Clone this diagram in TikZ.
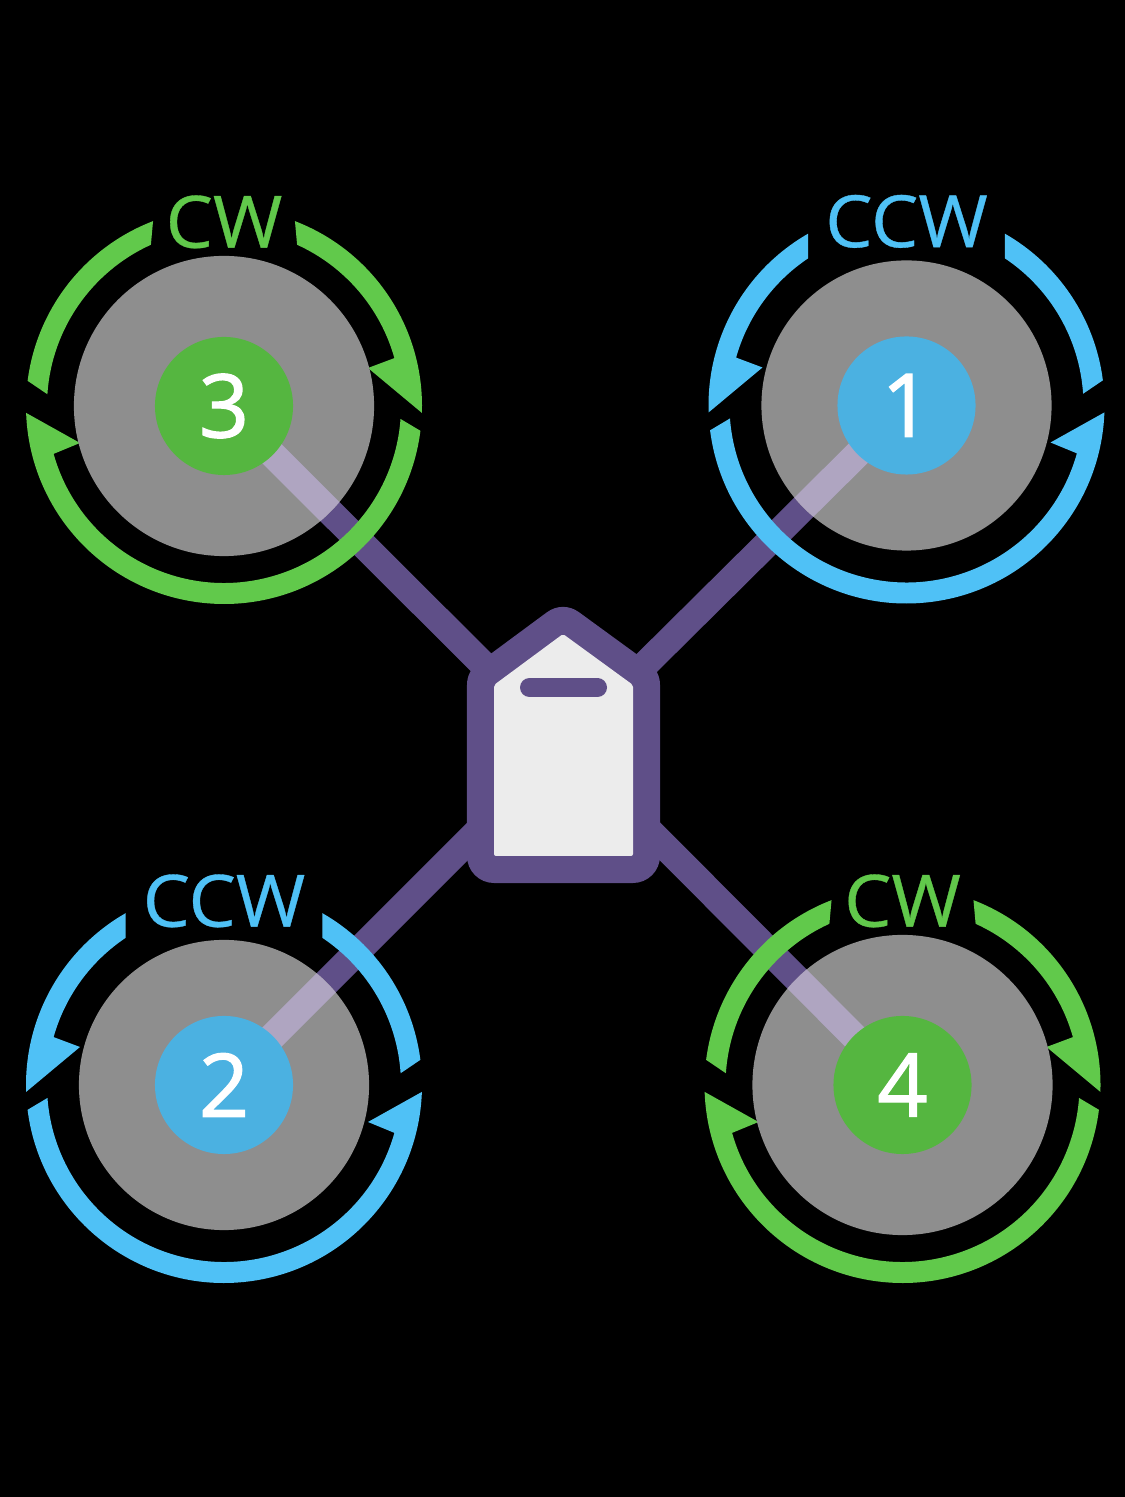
\documentclass[tikz,border=0pt]{standalone}
\usepackage{fontspec}
\setmainfont{Open Sans}
\newfontfamily\digitfont[FakeBold=1.4]{Open Sans}
\newfontfamily\wordfont[FakeBold=0.5,FakeStretch=1.04]{Open Sans}
\definecolor{ringgreen}{HTML}{61C94B}
\definecolor{hubgreen}{HTML}{55B640}
\definecolor{ringblue}{HTML}{4FC1F6}
\definecolor{hubblue}{HTML}{4BB1E1}
\definecolor{framecol}{HTML}{5F4F88}
\definecolor{armlightcol}{HTML}{AFA5C1}
\definecolor{disccol}{HTML}{8E8E8E}
\definecolor{bodycol}{HTML}{ECECEC}
\begin{document}
\begin{tikzpicture}[x=0.01cm,y=0.01cm,
  arm/.style={draw=framecol,line width=0.27cm},
  armlight/.style={draw=armlightcol,line width=0.27cm},
  disc/.style={circle,fill=disccol,inner sep=0pt,outer sep=0pt},
  hub/.style={circle,inner sep=0pt,outer sep=0pt,minimum size=1.38cm,text=white,font=\digitfont\fontsize{25}{30}\selectfont},
  spinlabel/.style={inner sep=0pt,font=\wordfont\fontsize{20.5}{24}\selectfont}]
\def\rout{198}
\def\rin{177}
% #1 centre, #2 flip, #3 colour, #4 outer gap angle, #5 inner gap angle
\def\spinring#1#2#3#4#5{
\begin{scope}[shift={(#1)},xscale=#2]
\fill[#3] (#4:\rout) arc[start angle=#4,end angle=-2,radius=\rout]--(144,38)--(15.7:\rin) arc[start angle=15.7,end angle=#5,radius=\rin]--cycle;
\fill[#3] (-7.2:\rout) arc[start angle=-7.2,end angle=-178,radius=\rout]--(-144,-37)--(-164.3:\rin) arc[start angle=-164.3,end angle=-4.2,radius=\rin]--cycle;
\fill[#3] (180-#4:\rout) arc[start angle=180-#4,end angle=172.7,radius=\rout]--(176.2:\rin) arc[start angle=176.2,end angle=180-#5,radius=\rin]--cycle;
\end{scope}
}
\fill[black] (0,0) rectangle (1125,1497);
\coordinate (body) at (564,752);
\coordinate (c1) at (906.5,1091.5);
\coordinate (c2) at (224,412);
\coordinate (c3) at (224,1091);
\coordinate (c4) at (902.5,412);
\foreach \n in {1,2,3,4} \draw[arm] (body)--(c\n);
\foreach \n/\flip/\ringcol/\hubcol/\gapout/\gapin/\dsize/\word in {
  1/-1/ringblue/hubblue/60.2/56.2/2.9cm/CCW,
  2/-1/ringblue/hubblue/60.2/56.2/2.9cm/CCW,
  3/1/ringgreen/hubgreen/69/65.6/3cm/CW,
  4/1/ringgreen/hubgreen/69/65.6/3cm/CW}{
  \spinring{c\n}{\flip}{\ringcol}{\gapout}{\gapin}
  \node[disc,minimum size=\dsize] (disc\n) at (c\n) {};
  \begin{scope}
  \clip (c\n) circle (\dsize/2);
  \draw[armlight] (body)--(c\n);
  \end{scope}
  \node[hub,fill=\hubcol] (rotor\n) at (c\n) {\n};
  \node[spinlabel,text=\ringcol] (word\n) at ([yshift=1.84cm]c\n) {\word};
}
\draw[draw=framecol,fill=framecol,line width=0.54cm,line join=round] (494,812)--(563,863)--(633,812)--(633,641)--(494,641)--cycle;
\fill[bodycol,rounded corners=0.02cm] (494,812)--(563,863)--(633,812)--(633,641)--(494,641)--cycle;
\draw[framecol,line width=0.19cm,line cap=round] (529.5,809.5)--(597.5,809.5);
\end{tikzpicture}
\end{document}
